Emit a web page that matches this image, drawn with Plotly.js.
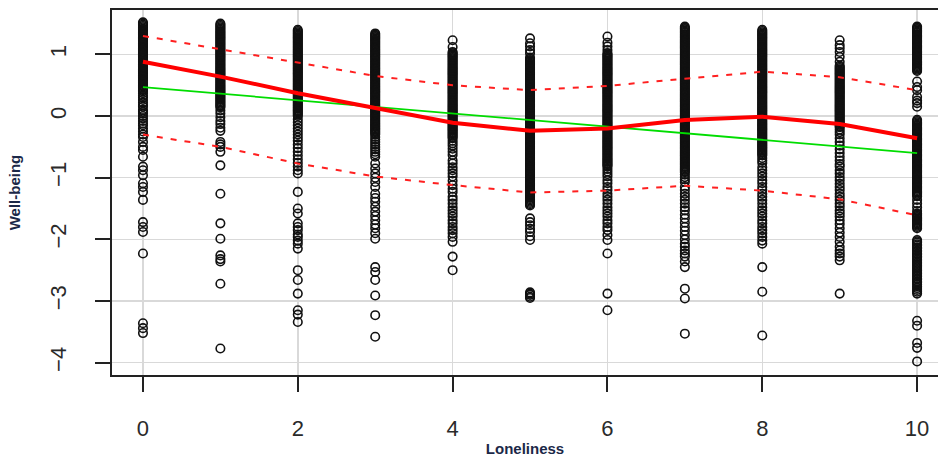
<!DOCTYPE html>
<html>
<head>
<meta charset="utf-8">
<script src="https://cdn.plot.ly/plotly-3.0.1.min.js"></script>
<style>html,body{margin:0;padding:0;background:#fff}#chart{width:938px;height:457px}</style>
</head>
<body>
<div id="chart"></div>
<script>
// Loneliness levels (x) and Well-being scores (y) per level
const loneliness = [0,1,2,3,4,5,6,7,8,9,10];
const wb_L0 = [1.52,1.50,1.48,1.46,1.44,1.42,1.40,1.38,1.36,1.34,1.32,1.30,1.28,1.26,1.24,1.22,1.20,1.18,1.16,1.14,1.12,1.10,1.08,1.06,1.04,1.02,1.00,0.98,0.96,0.94,0.92,0.90,0.88,0.86,0.84,0.82,0.80,0.78,0.76,0.74,0.72,0.70,0.68,0.66,0.64,0.62,0.60,0.58,0.56,0.54,0.52,0.50,0.48,0.46,0.44,0.42,
  0.40,0.37,0.33,0.30,0.26,0.22,0.18,0.15,0.10,0.07,0.04,0.00,-0.04,-0.08,-0.12,-0.15,-0.20,-0.25,-0.30,-0.34,-0.42,-0.50,-0.55,-0.66,-0.82,-0.88,-0.96,-1.09,-1.15,-1.23,-1.36,-1.72,-1.80,-1.88,-2.23,-3.36,-3.44,-3.52];
const wb_L1 = [1.50,1.48,1.46,1.44,1.42,1.40,1.38,1.36,1.34,1.32,1.30,1.28,1.26,1.24,1.22,1.20,1.18,1.16,1.14,1.12,1.10,1.08,1.06,1.04,1.02,1.00,0.98,0.96,0.94,0.92,0.90,0.88,0.86,0.84,0.82,0.80,0.78,0.76,0.74,0.72,0.70,0.68,0.66,0.64,0.62,0.60,0.58,0.56,0.54,0.52,0.50,0.48,0.46,0.44,0.42,0.40,0.38,0.36,0.34,0.32,0.30,0.28,0.26,0.24,0.22,0.20,0.18,0.16,0.14,
  0.09,0.04,-0.02,-0.08,-0.13,-0.19,-0.24,-0.42,-0.46,-0.50,-0.58,-0.80,-1.26,-1.74,-1.99,-2.26,-2.32,-2.36,-2.72,-3.77];
const wb_L2 = [1.40,1.38,1.36,1.34,1.32,1.30,1.28,1.26,1.24,1.22,1.20,1.18,1.16,1.14,1.12,1.10,1.08,1.06,1.04,1.02,1.00,0.98,0.96,0.94,0.92,0.90,0.88,0.86,0.84,0.82,0.80,0.78,0.76,0.74,0.72,0.70,0.68,0.66,0.64,0.62,0.60,0.58,0.56,0.54,0.52,0.50,0.48,0.46,0.44,0.42,0.40,0.38,0.36,0.34,0.32,0.30,0.28,0.26,0.24,0.22,0.20,0.18,0.16,0.14,0.12,0.10,0.08,0.06,0.04,0.02,0.00,
  -0.05,-0.10,-0.15,-0.20,-0.25,-0.30,-0.35,-0.40,-0.46,-0.52,-0.58,-0.64,-0.70,-0.76,-0.82,-0.88,-0.93,
  -1.23,-1.50,-1.58,-1.74,-1.80,-1.85,-1.92,-1.96,-2.02,-2.07,-2.15,-2.50,-2.66,-2.88,-3.15,-3.22,-3.34];
const wb_L3 = [1.34,1.32,1.30,1.28,1.26,1.24,1.22,1.20,1.18,1.16,1.14,1.12,1.10,1.08,1.06,1.04,1.02,1.00,0.98,0.96,0.94,0.92,0.90,0.88,0.86,0.84,0.82,0.80,0.78,0.76,0.74,0.72,0.70,0.68,0.66,0.64,0.62,0.60,0.58,0.56,0.54,0.52,0.50,0.48,0.46,0.44,0.42,0.40,0.38,0.36,0.34,0.32,0.30,0.28,0.26,0.24,0.22,0.20,0.18,0.16,0.14,0.12,0.10,0.08,0.06,0.04,0.02,0.00,-0.02,-0.04,-0.06,-0.08,-0.10,-0.12,-0.14,-0.16,-0.18,-0.20,-0.22,-0.24,-0.26,-0.28,-0.30,
  -0.34,-0.38,-0.42,-0.46,-0.50,-0.54,-0.58,-0.62,-0.66,
  -0.77,-0.85,-0.93,-1.00,-1.07,-1.15,-1.26,-1.33,-1.39,-1.47,-1.55,-1.62,-1.69,-1.76,-1.82,-1.90,-1.99,-2.45,-2.53,-2.66,-2.91,-3.23,-3.58];
const wb_L4 = [1.23,1.12,1.04,1.02,1.00,0.98,0.96,0.94,0.92,0.90,0.88,0.86,0.84,0.82,0.80,0.78,0.76,0.74,0.72,0.70,0.68,0.66,0.64,0.62,0.60,0.58,0.56,0.54,0.52,0.50,0.48,0.46,0.44,0.42,0.40,0.38,0.36,0.34,0.32,0.30,0.28,0.26,0.24,0.22,0.20,0.18,0.16,0.14,0.12,0.10,0.08,0.06,0.04,0.02,0.00,-0.02,-0.04,-0.06,-0.08,-0.10,-0.12,-0.14,-0.16,-0.18,-0.20,-0.22,-0.24,-0.26,-0.28,-0.30,-0.32,-0.34,-0.36,
  -0.40,-0.44,-0.48,-0.53,-0.58,-0.63,
  -0.72,-0.77,-0.83,-0.88,-0.93,-0.98,-1.05,-1.12,-1.18,-1.23,-1.31,-1.36,-1.42,-1.48,-1.53,-1.58,-1.63,-1.69,-1.74,-1.80,-1.85,-1.90,-1.96,-2.04,-2.28,-2.50];
const wb_L5 = [1.26,1.18,1.13,1.07,1.02,0.95,0.93,0.91,0.89,0.87,0.85,0.83,0.81,0.79,0.77,0.75,0.73,0.71,0.69,0.67,0.65,0.63,0.61,0.59,0.57,0.55,0.53,0.51,0.49,0.47,0.45,0.43,0.41,0.39,0.37,0.35,0.33,0.31,0.29,0.27,0.25,0.23,0.21,0.19,0.17,0.15,0.13,0.11,0.09,0.07,0.05,0.03,0.01,-0.01,-0.03,-0.05,-0.07,-0.09,-0.11,-0.13,-0.15,-0.17,-0.19,-0.21,-0.23,-0.25,-0.27,-0.29,-0.31,-0.33,-0.35,-0.37,-0.39,-0.41,-0.43,-0.45,-0.47,-0.49,-0.51,-0.53,-0.55,-0.57,-0.59,-0.61,-0.63,-0.65,-0.67,-0.69,-0.71,-0.73,-0.75,-0.77,-0.79,-0.81,-0.83,-0.85,-0.87,-0.89,-0.91,-0.93,-0.95,-0.97,-0.99,-1.01,-1.03,-1.05,-1.07,-1.09,-1.11,-1.13,-1.15,-1.17,-1.19,-1.21,-1.23,-1.25,-1.27,-1.29,-1.31,-1.33,-1.35,-1.37,-1.39,-1.41,-1.43,-1.45,
  -1.66,-1.72,-1.77,-1.83,-1.88,-1.95,-2.01,-2.86,-2.88,-2.90,-2.93,-2.95];
const wb_L6 = [1.29,1.19,1.13,1.07,1.02,1.00,0.98,0.96,0.94,0.92,0.90,0.88,0.86,0.84,0.82,0.80,0.78,0.76,0.74,0.72,0.70,0.68,0.66,0.64,0.62,0.60,0.58,0.56,0.54,0.52,0.50,0.48,0.46,0.44,0.42,0.40,0.38,0.36,0.34,0.32,0.30,0.28,0.26,0.24,0.22,0.20,0.18,0.16,0.14,0.12,0.10,0.08,0.06,0.04,0.02,0.00,-0.02,-0.04,-0.06,-0.08,-0.10,-0.12,-0.14,-0.16,-0.18,-0.20,-0.22,-0.24,-0.26,-0.28,-0.30,-0.32,-0.34,-0.36,-0.38,-0.40,-0.42,-0.44,-0.46,-0.48,-0.50,-0.52,-0.54,-0.56,-0.58,-0.60,-0.62,-0.64,-0.66,-0.68,-0.70,-0.72,-0.74,-0.76,-0.78,-0.80,-0.82,
  -0.86,-0.90,-0.94,-0.98,
  -1.04,-1.09,-1.15,-1.20,-1.26,-1.31,-1.36,-1.42,-1.48,-1.53,-1.58,-1.63,-1.69,-1.74,-1.80,-1.85,-1.93,-2.01,-2.23,-2.88,-3.15];
const wb_L7 = [1.45,1.43,1.41,1.39,1.37,1.35,1.33,1.31,1.29,1.27,1.25,1.23,1.21,1.19,1.17,1.15,1.13,1.11,1.09,1.07,1.05,1.03,1.01,0.99,0.97,0.95,0.93,0.91,0.89,0.87,0.85,0.83,0.81,0.79,0.77,0.75,0.73,0.71,0.69,0.67,0.65,0.63,0.61,0.59,0.57,0.55,0.53,0.51,0.49,0.47,0.45,0.43,0.41,0.39,0.37,0.35,0.33,0.31,0.29,0.27,0.25,0.23,0.21,0.19,0.17,0.15,0.13,0.11,0.09,0.07,0.05,0.03,0.01,-0.01,-0.03,-0.05,-0.07,-0.09,-0.11,-0.13,-0.15,-0.17,-0.19,-0.21,-0.23,-0.25,-0.27,-0.29,-0.31,-0.33,-0.35,-0.37,-0.39,-0.41,-0.43,-0.45,-0.47,-0.49,-0.51,-0.53,-0.55,-0.57,-0.59,-0.61,-0.63,-0.65,-0.67,-0.69,-0.71,-0.73,-0.75,-0.77,-0.79,-0.81,-0.83,-0.85,-0.87,-0.89,
  -0.91,-0.95,-0.99,-1.03,-1.07,
  -1.15,-1.20,-1.26,-1.31,-1.36,-1.42,-1.48,-1.53,-1.60,-1.66,-1.73,-1.80,-1.86,-1.93,-2.00,-2.07,-2.12,-2.18,-2.23,-2.28,-2.36,-2.45,-2.80,-2.96,-3.53];
const wb_L8 = [1.40,1.38,1.36,1.34,1.32,1.30,1.28,1.26,1.24,1.22,1.20,1.18,1.16,1.14,1.12,1.10,1.08,1.06,1.04,1.02,1.00,0.98,0.96,0.94,0.92,0.90,0.88,0.86,0.84,0.82,0.80,0.78,0.76,0.74,0.72,0.70,0.68,0.66,0.64,0.62,0.60,0.58,0.56,0.54,0.52,0.50,0.48,0.46,0.44,0.42,0.40,0.38,0.36,0.34,0.32,0.30,0.28,0.26,0.24,0.22,0.20,0.18,0.16,0.14,0.12,0.10,0.08,0.06,0.04,0.02,0.00,-0.02,-0.04,-0.06,-0.08,-0.10,-0.12,-0.14,-0.16,-0.18,-0.20,-0.22,-0.24,-0.26,-0.28,-0.30,-0.32,-0.34,-0.36,-0.38,-0.40,-0.42,-0.44,-0.46,-0.48,-0.50,-0.52,-0.54,-0.56,-0.58,-0.60,-0.62,
  -0.64,-0.68,-0.72,-0.76,
  -0.83,-0.88,-0.93,-0.98,-1.04,-1.09,-1.15,-1.20,-1.26,-1.31,-1.36,-1.42,-1.48,-1.53,-1.58,-1.63,-1.69,-1.74,-1.80,-1.85,-1.90,-1.96,-2.02,-2.07,-2.45,-2.85,-3.56];
const wb_L9 = [1.23,1.15,1.10,1.04,0.96,0.88,0.82,0.80,0.78,0.76,0.74,0.72,0.70,0.68,0.66,0.64,0.62,0.60,0.58,0.56,0.54,0.52,0.50,0.48,0.46,0.44,0.42,0.40,0.38,0.36,0.34,0.32,0.30,0.28,0.26,0.24,0.22,0.20,0.18,0.16,0.14,0.12,0.10,0.08,0.06,0.04,0.02,0.00,-0.02,-0.04,-0.06,-0.08,-0.10,-0.12,-0.14,-0.16,-0.18,
  -0.22,-0.26,-0.30,
  -0.36,-0.42,-0.48,-0.54,-0.60,-0.66,-0.72,-0.78,-0.82,-0.88,-0.93,-0.99,-1.04,-1.10,-1.15,-1.20,-1.26,-1.31,-1.36,-1.42,-1.47,-1.53,-1.58,-1.63,-1.69,-1.75,-1.82,-1.89,-1.96,-2.04,-2.12,-2.18,-2.23,-2.28,-2.34,-2.88];
const wb_L10 = [1.45,1.43,1.41,1.39,1.37,1.35,1.33,1.31,1.29,1.27,1.25,1.23,1.21,1.19,1.17,1.15,1.13,1.11,1.09,1.07,1.05,1.03,1.01,0.99,0.97,0.95,0.93,0.91,0.89,0.87,0.85,0.83,0.81,0.79,0.77,0.75,0.73,
  0.56,0.47,0.42,0.31,0.25,0.21,0.15,
  -0.06,-0.08,-0.10,-0.12,-0.14,-0.16,-0.18,-0.20,-0.22,-0.24,-0.26,-0.28,-0.30,-0.32,-0.34,-0.36,-0.38,-0.40,-0.42,-0.44,-0.46,-0.48,-0.50,-0.52,-0.54,-0.56,-0.58,-0.60,-0.62,-0.64,-0.66,-0.68,-0.70,-0.72,-0.74,-0.76,-0.78,-0.80,-0.82,-0.84,-0.86,-0.88,-0.90,-0.92,-0.94,-0.96,-0.98,-1.00,-1.02,-1.04,-1.06,-1.08,-1.10,-1.12,-1.14,-1.16,-1.18,-1.20,-1.22,-1.24,-1.26,-1.28,-1.30,
  -1.36,-1.42,-1.48,-1.54,-1.58,-1.60,-1.62,-1.64,-1.66,-1.68,-1.70,-1.72,-1.74,-1.76,-1.78,-1.80,-1.82,
  -2.01,-2.03,-2.05,-2.08,-2.10,-2.13,-2.15,-2.18,-2.20,-2.23,-2.25,-2.28,-2.30,-2.33,-2.35,-2.38,-2.40,-2.43,-2.45,-2.48,-2.50,-2.53,-2.55,-2.58,-2.60,-2.63,-2.65,-2.68,-2.70,-2.73,-2.76,-2.79,-2.82,-2.85,-2.88,
  -3.32,-3.40,-3.68,-3.76,-3.98];

// Fitted lines
const loessFit   = [0.88,0.64,0.37,0.125,-0.11,-0.24,-0.20,-0.065,-0.01,-0.13,-0.36];
const loessUpper = [1.30,1.08,0.86,0.65,0.50,0.42,0.49,0.61,0.72,0.63,0.42];
const loessLower = [-0.30,-0.50,-0.77,-0.98,-1.12,-1.24,-1.21,-1.13,-1.21,-1.35,-1.61];
const linX = [0,10];
const linFit = [0.47,-0.60];

const xTicks = [0,2,4,6,8,10];
const yTicks = [-4,-3,-2,-1,0,1];

const groups = [wb_L0,wb_L1,wb_L2,wb_L3,wb_L4,wb_L5,wb_L6,wb_L7,wb_L8,wb_L9,wb_L10];
const px = [], py = [];
groups.forEach((arr,i)=>{ arr.forEach(v=>{ px.push(loneliness[i]); py.push(v); }); });

const traces = [
  {x:px, y:py, type:'scatter', mode:'markers', name:'obs',
   marker:{symbol:'circle-open', size:8.5, color:'#111', line:{width:1.6, color:'#111'}}, hoverinfo:'x+y'},
  {x:linX, y:linFit, type:'scatter', mode:'lines', name:'linear', line:{color:'#00dd00', width:1.8}},
  {x:loneliness, y:loessUpper, type:'scatter', mode:'lines', name:'upper', line:{color:'#ff2020', width:2, dash:'6px,8px'}},
  {x:loneliness, y:loessLower, type:'scatter', mode:'lines', name:'lower', line:{color:'#ff2020', width:2, dash:'6px,8px'}},
  {x:loneliness, y:loessFit, type:'scatter', mode:'lines', name:'loess', line:{color:'#ff0000', width:4}}
];

const tickFont = {family:'"Liberation Sans", Arial, sans-serif', size:22, color:'#2a2a2a'};
const titleFont = {family:'"Liberation Sans", Arial, sans-serif', size:15, color:'#1b2848', weight:'bold'};

const layout = {
  width:938, height:457,
  margin:{l:112, r:0, t:10, b:82},
  paper_bgcolor:'#fff', plot_bgcolor:'#fff',
  showlegend:false,
  xaxis:{range:[-0.4,10.27], tickvals:xTicks, ticktext:xTicks.map(String),
    showgrid:true, gridcolor:'#d9d9d9', gridwidth:1.5, zeroline:false,
    showline:true, mirror:true, linecolor:'#222', linewidth:2,
    ticks:'outside', ticklen:15, tickwidth:2, tickcolor:'#222', ticklabelstandoff:18,
    tickfont:tickFont, title:{text:'<b>Loneliness</b>', font:titleFont, standoff:4}},
  yaxis:{range:[-4.2,1.72], tickvals:yTicks, ticktext:yTicks.map(v=>v<0?'\u2212'+Math.abs(v):String(v)),
    showgrid:true, gridcolor:'#d9d9d9', gridwidth:1.5, zeroline:false,
    showline:true, mirror:false, linecolor:'#222', linewidth:2,
    ticks:'outside', ticklen:15, tickwidth:2, tickcolor:'#222', tickangle:-90, ticklabelstandoff:20,
    tickfont:tickFont, title:{text:'<b>Well-being</b>', font:titleFont, standoff:22}}
};

Plotly.newPlot('chart', traces, layout, {displayModeBar:false, staticPlot:true});
</script>
</body>
</html>
